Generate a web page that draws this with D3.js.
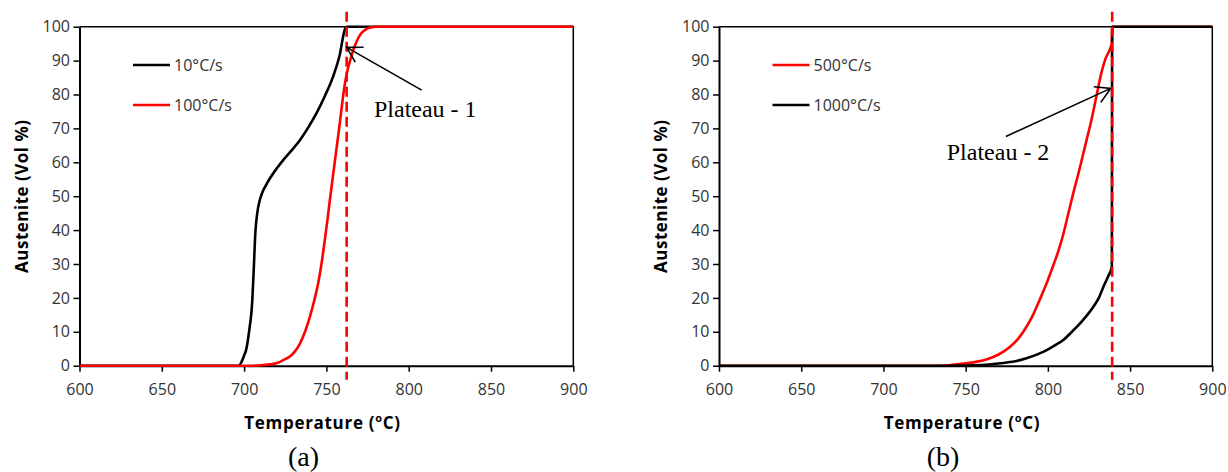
<!DOCTYPE html>
<html><head><meta charset="utf-8">
<script src="https://cdn.jsdelivr.net/npm/d3@7"></script>
<style>body{margin:0;background:#fff} svg{display:block}</style>
</head><body>
<svg id="c" width="1228" height="472"></svg>
<script>
const xTicks = [600, 650, 700, 750, 800, 850, 900];
const yTicks = [0, 10, 20, 30, 40, 50, 60, 70, 80, 90, 100];

// panel (a)
const rate10 = [[600,0],[697,0],[698.5,1.2],[700,3],[701.2,4.6],[703,10],[705,19.4],[706,30],[706.8,39],[708,45],[709.5,48.8],[711,51],[713,53],[716,55.5],[720,58.3],[724,60.8],[729,63.6],[734,66.6],[739,70.3],[744,74.5],[749,79.5],[754,85.2],[758,91.5],[761.3,99.3],[762.3,100],[900,100]];
const rate100 = [[600,0],[705,0],[712,0.2],[716,0.4],[720,0.8],[724,1.7],[728,2.8],[731,4.3],[734,6.6],[737,10],[740,14.5],[742.5,19],[745,24.3],[747,30],[749,37],[750.5,42.5],[752,48.5],[754,56],[756,63.5],[758,71],[759.5,77],[761,82.5],[763,87.5],[765,91],[767,94],[769,96.3],[771,97.9],[774,99.2],[777,99.8],[780,100],[900,100]];
// panel (b)
const rate500 = [[600,0],[730,0],[740,0.15],[750,0.7],[757,1.2],[763,1.9],[770,3.3],[777,5.6],[782,8],[787,11.5],[791,15],[795,19.4],[799,24],[803,29.2],[806.5,34],[809.5,39],[812,44],[815,50],[819,57.5],[823,65.5],[826.5,72.5],[829.5,79.4],[832.5,86.3],[835,90.5],[838.5,94.3],[838.9,95],[839.1,100],[900,100]];
const rate1000 = [[600,0],[740,0],[760,0.2],[770.9,0.7],[780,1.3],[787,2.2],[794,3.4],[799.3,4.6],[805,6.2],[809.4,7.6],[815,10.2],[819.6,12.5],[824,15],[827.7,17.4],[831,20],[833.8,23.3],[836.5,26.2],[838.9,29.2],[839.1,100],[900,100]];

const legendA = ["10°C/s", "100°C/s"];
const legendB = ["500°C/s", "1000°C/s"];
const plateauA = 762.3, plateauB = 839.1;

const svg = d3.select("#c");
const tickFont = "'Open Sans', sans-serif";

const panels = [
  { left: 79.5, right: 573.3, series: [[rate10, "#000"], [rate100, "#ff0000"]], names: legendA,
    plateau: plateauA, note: { text: "Plateau - 1", tip: [762.3, 93.9], tail: [807.9, 81.3], label: [778.9, 73.5] }, caption: "(a)" },
  { left: 719, right: 1212.3, series: [[rate500, "#ff0000"], [rate1000, "#000"]], names: legendB,
    plateau: plateauB, note: { text: "Plateau - 2", tip: [838.2, 81.8], tail: [774.5, 67.6], label: [738.5, 60.7] }, caption: "(b)" }
];

const plotTop = 26.7, plotBottom = 365.7;

panels.forEach(p => {
  const x = d3.scaleLinear().domain([600, 900]).range([p.left, p.right]);
  const y = d3.scaleLinear().domain([0, 100]).range([plotBottom, plotTop]);
  const g = svg.append("g");

  // border top/right
  g.append("path").attr("d", `M${p.left},${plotTop}H${p.right}V${plotBottom}`)
    .attr("fill", "none").attr("stroke", "#000").attr("stroke-width", 1.5);

  // axes
  const ya = g.append("g").attr("transform", `translate(${p.left},0)`)
    .call(d3.axisLeft(y).tickValues(yTicks).tickSize(6).tickSizeOuter(0).tickPadding(3.5));
  const xa = g.append("g").attr("transform", `translate(0,${plotBottom})`)
    .call(d3.axisBottom(x).tickValues(xTicks).tickSize(6).tickSizeOuter(0).tickPadding(12.3));
  [ya, xa].forEach(a => {
    a.select(".domain").attr("stroke", "#000").attr("stroke-width", 2);
    a.selectAll(".tick line").attr("stroke", "#000").attr("stroke-width", 1.5);
    a.selectAll(".tick text").attr("fill", "#333").style("font-family", tickFont).style("font-size", "16px");
  });

  // curves
  const line = d3.line().x(d => x(d[0])).y(d => y(d[1])).curve(d3.curveMonotoneX);
  p.series.forEach(([data, color]) => {
    g.append("path").datum(data).attr("d", line).attr("fill", "none")
      .attr("stroke", color).attr("stroke-width", 2.6).attr("stroke-linejoin", "round");
  });

  // dashed plateau line
  g.append("line").attr("x1", x(p.plateau)).attr("x2", x(p.plateau))
    .attr("y1", y(100) - 15).attr("y2", y(0) + 14)
    .attr("stroke", "#ff0000").attr("stroke-width", 2.6).attr("stroke-dasharray", "10,5");

  // legend
  p.names.forEach((n, i) => {
    const ly = y(i === 0 ? 88.7 : 76.9);
    const lx = p.left + 53.5;
    g.append("line").attr("x1", lx).attr("x2", lx + 37).attr("y1", ly).attr("y2", ly)
      .attr("stroke", p.series[i][1]).attr("stroke-width", 2.6);
    g.append("text").attr("x", lx + 41).attr("y", ly).attr("dy", "0.36em")
      .attr("fill", "#333").style("font-family", tickFont).style("font-size", "16px").text(n);
  });

  // annotation arrow
  const tip = [x(p.note.tip[0]), y(p.note.tip[1])];
  const tail = [x(p.note.tail[0]), y(p.note.tail[1])];
  const ang = Math.atan2(tail[1] - tip[1], tail[0] - tip[0]);
  const L = 17, spread = Math.PI / 6;
  const h1 = [tip[0] + L * Math.cos(ang - spread), tip[1] + L * Math.sin(ang - spread)];
  const h2 = [tip[0] + L * Math.cos(ang + spread), tip[1] + L * Math.sin(ang + spread)];
  g.append("path").attr("d", `M${tail}L${tip}M${h1}L${tip}L${h2}`)
    .attr("fill", "none").attr("stroke", "#000").attr("stroke-width", 1.6);
  g.append("text").attr("x", x(p.note.label[0])).attr("y", y(p.note.label[1]))
    .style("font-family", "'Liberation Serif', 'Times New Roman', serif").style("font-size", "24px")
    .attr("fill", "#000").text(p.note.text);

  // axis titles
  const xt = g.append("text").attr("x", p.left + 243).attr("y", 429).attr("text-anchor", "middle")
    .style("font-family", tickFont).style("font-weight", "bold").style("font-size", "17px")
    .style("letter-spacing", "0.7px").attr("fill", "#000");
  xt.append("tspan").text("Temperature (");
  xt.append("tspan").attr("dy", -7).style("font-size", "11px").text("o");
  xt.append("tspan").attr("dy", 7).text("C)");

  g.append("text").attr("transform", `translate(${p.left - 58},${(plotTop + plotBottom) / 2}) rotate(-90)`)
    .attr("text-anchor", "middle").attr("dy", "0.36em")
    .style("font-family", tickFont).style("font-weight", "bold").style("font-size", "17px")
    .style("letter-spacing", "0.5px").attr("fill", "#000").text("Austenite (Vol %)");

  g.append("text").attr("x", p.left + 224).attr("y", 466).attr("text-anchor", "middle")
    .style("font-family", "'Liberation Serif', 'Times New Roman', serif").style("font-size", "28px")
    .attr("fill", "#000").text(p.caption);
});
</script>
</body></html>
